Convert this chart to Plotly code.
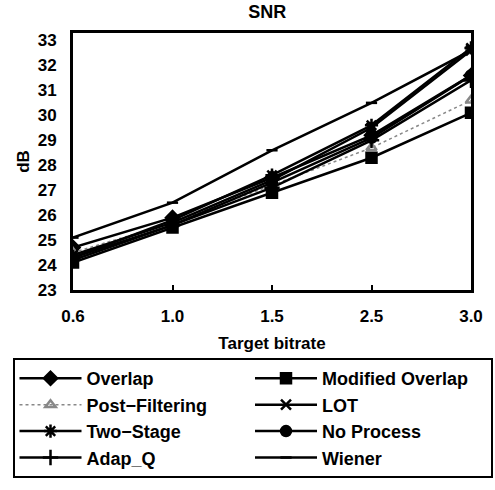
import plotly.graph_objects as go

categories = ["0.6", "1.0", "1.5", "2.5", "3.0"]
overlap = [24.7, 25.9, 27.5, 29.2, 31.6]
modified_overlap = [24.1, 25.5, 26.9, 28.3, 30.1]
post_filtering = [24.5, 25.7, 27.2, 28.7, 30.6]
lot = [24.4, 25.7, 27.4, 29.5, 32.6]
two_stage = [24.3, 25.8, 27.6, 29.6, 32.7]
no_process = [24.2, 25.6, 27.3, 29.1, 31.6]
adap_q = [24.3, 25.6, 27.1, 29.0, 31.4]
wiener = [25.1, 26.5, 28.6, 30.5, 32.6]

series = [
    ("Overlap", overlap, "diamond", 10, "black", "solid", 2.5),
    ("Modified Overlap", modified_overlap, "square", 10, "black", "solid", 2.5),
    ("Post\u2212Filtering", post_filtering, "triangle-up-open", 9, "#888888", "dot", 1.5),
    ("LOT", lot, "x-thin-open", 10, "black", "solid", 2.5),
    ("Two\u2212Stage", two_stage, "asterisk-open", 11, "black", "solid", 2.5),
    ("No Process", no_process, "circle", 10, "black", "solid", 2.5),
    ("Adap_Q", adap_q, "cross-thin-open", 11, "black", "solid", 2.5),
    ("Wiener", wiener, "line-ew-open", 8, "black", "solid", 2.5),
]

fig = go.Figure()
for name, vals, sym, size, color, dash, w in series:
    fig.add_trace(go.Scatter(
        x=categories, y=vals, name=name, mode="lines+markers",
        line=dict(color=color, width=w, dash=dash),
        marker=dict(symbol=sym, size=size, color=color,
                    line=dict(color=color, width=2.5)),
    ))

font = dict(family="Liberation Sans, Arial, sans-serif", color="black", weight="bold")
fig.update_layout(
    width=495, height=490,
    margin=dict(l=72, r=15, t=33, b=190),
    paper_bgcolor="white", plot_bgcolor="white",
    title=dict(text="SNR", x=0.54, xanchor="center", y=0.99, yanchor="top",
               font=dict(size=18, **font)),
    font=dict(size=17, **font),
    xaxis=dict(type="category", range=[0, 4], showgrid=False,
               showline=True, linecolor="black", linewidth=3, mirror=True,
               ticks="inside", ticklen=5, tickwidth=2, tickcolor="black",
               ticklabelstandoff=9,
               tickfont=dict(size=17, **font),
               title=dict(text="Target bitrate", font=dict(size=17, **font), standoff=12)),
    yaxis=dict(range=[23, 33.3], dtick=1, showgrid=False, zeroline=False,
               showline=True, linecolor="black", linewidth=3, mirror=True,
               ticks="", ticklabelstandoff=10, tickfont=dict(size=17, **font),
               title=dict(text="dB", font=dict(size=17, **font), standoff=4)),
    legend=dict(orientation="h", x=-0.152, xanchor="left", y=-0.265, yanchor="top",
                entrywidth=0.5, entrywidthmode="fraction",
                bordercolor="black", borderwidth=2, bgcolor="white",
                font=dict(size=18, **font), itemwidth=62, tracegroupgap=0),
)

fig.write_html("out.html", config={"displayModeBar": False},
               post_script="document.body.style.margin='0';")
